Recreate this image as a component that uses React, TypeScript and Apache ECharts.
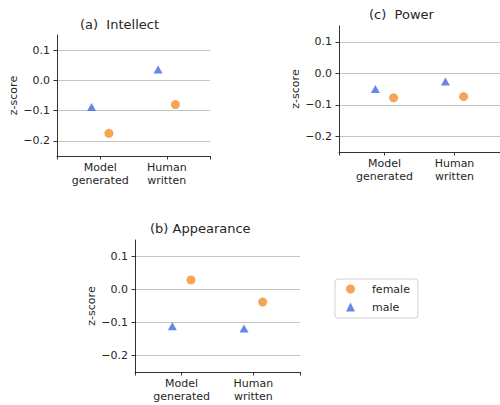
import React, { useEffect, useRef } from "react";
import * as echarts from "echarts";

// ---- data ----
const categories = ["Model\ngenerated", "Human\nwritten"];
const yTicks = [-0.2, -0.1, 0, 0.1];
const panelTitles = ["(a)  Intellect", "(b) Appearance", "(c)  Power"];
const seriesNames = ["female", "male"];
// values per category: [Model generated, Human written]
const intellectFemale = [-0.175, -0.08];
const intellectMale = [-0.088, 0.036];
const appearanceFemale = [0.029, -0.038];
const appearanceMale = [-0.111, -0.118];
const powerFemale = [-0.078, -0.074];
const powerMale = [-0.05, -0.026];

const panelData = [
  [intellectFemale, intellectMale],
  [appearanceFemale, appearanceMale],
  [powerFemale, powerMale],
];

// ---- style / layout ----
const FONT = "DejaVu Sans";
const TEXT = "#262626";
const AXIS = "#333333";
const GRIDC = "#c4c4c4";
const ORANGE = "#f28e2b";
const BLUE = "#4169e1";
const DODGE = 0.13;
const XMIN = -0.65;
const XMAX = 1.65;

const layouts = [
  { grid: { left: 57, top: 35, width: 153, height: 121 }, title: { left: 80, top: 18 } },
  { grid: { left: 135, top: 240, width: 165, height: 132 }, title: { left: 150, top: 222 } },
  { grid: { left: 339, top: 26, width: 161, height: 126 }, title: { left: 369, top: 8 } },
];

const fmtY = (v: number) => {
  const s = Math.abs(v) < 1e-9 ? "0.0" : v.toFixed(1);
  return s.replace("-", "\u2212");
};

export default function App() {
  const ref = useRef<HTMLDivElement>(null);
  useEffect(() => {
    if (!ref.current) return;
    const chart = echarts.init(ref.current, undefined, { renderer: "svg" });

    const grid = layouts.map((l) => ({ ...l.grid, containLabel: false }));
    const title = layouts.map((l, k) => ({
      text: panelTitles[k],
      left: l.title.left,
      top: l.title.top,
      padding: 0,
      textStyle: { fontFamily: FONT, fontSize: 13, fontWeight: "normal", color: TEXT },
    }));
    const xAxis = layouts.map((_, k) => ({
      type: "value",
      gridIndex: k,
      position: "bottom",
      min: XMIN,
      max: XMAX,
      axisLine: { show: true, onZero: false, lineStyle: { color: AXIS, width: 1 } },
      axisTick: {
        show: true,
        length: 3.5,
        customValues: [XMIN, 0, 1, XMAX],
        lineStyle: { color: AXIS, width: 1 },
      },
      axisLabel: {
        customValues: [0, 1],
        formatter: (v: number) => categories[Math.round(v)] ?? "",
        fontFamily: FONT,
        fontSize: 11,
        lineHeight: 13,
        margin: 5,
        color: TEXT,
      },
      splitLine: { show: false },
    }));
    const yAxis = layouts.map((_, k) => ({
      type: "value",
      gridIndex: k,
      position: "left",
      min: -0.25,
      max: 0.15,
      name: "z-score",
      nameLocation: "middle",
      nameGap: 37,
      nameRotate: 90,
      nameTextStyle: { fontFamily: FONT, fontSize: 11, color: TEXT },
      axisLine: { show: true, onZero: false, lineStyle: { color: AXIS, width: 1 } },
      axisTick: {
        show: true,
        length: 3.5,
        customValues: yTicks,
        lineStyle: { color: AXIS, width: 1 },
      },
      axisLabel: {
        customValues: yTicks,
        formatter: fmtY,
        fontFamily: FONT,
        fontSize: 11,
        margin: 7,
        color: TEXT,
      },
      splitLine: { show: true, lineStyle: { color: GRIDC, width: 1 } },
    }));

    const series: any[] = [];
    panelData.forEach((pair, k) => {
      const [fem, male] = pair;
      series.push({
        type: "scatter",
        name: seriesNames[1],
        xAxisIndex: k,
        yAxisIndex: k,
        symbol: "triangle",
        symbolSize: [9, 8],
        itemStyle: { color: BLUE },
        data: male.map((v, i) => [i - DODGE, v]),
      });
      series.push({
        type: "scatter",
        name: seriesNames[0],
        xAxisIndex: k,
        yAxisIndex: k,
        symbol: "circle",
        symbolSize: 9,
        itemStyle: { color: ORANGE },
        data: fem.map((v, i) => [i + DODGE, v]),
      });
    });

    chart.setOption({
      animation: false,
      backgroundColor: "#ffffff",
      title,
      grid,
      xAxis,
      yAxis,
      series,
      legend: {
        orient: "vertical",
        left: 335,
        top: 279,
        data: [
          { name: "female", icon: "circle" },
          { name: "male", icon: "triangle" },
        ],
        itemWidth: 9,
        itemHeight: 9,
        itemGap: 6,
        padding: [4, 8, 5, 11],
        borderColor: "#d0d0d0",
        borderWidth: 1,
        borderRadius: 3,
        textStyle: {
          fontFamily: FONT,
          fontSize: 11,
          lineHeight: 12,
          color: TEXT,
          padding: [0, 0, 0, 12],
        },
      },
    } as any);
    return () => chart.dispose();
  }, []);
  return (
    <div
      ref={ref}
      style={{ position: "fixed", left: 0, top: 0, width: 500, height: 405, background: "#fff" }}
    />
  );
}
